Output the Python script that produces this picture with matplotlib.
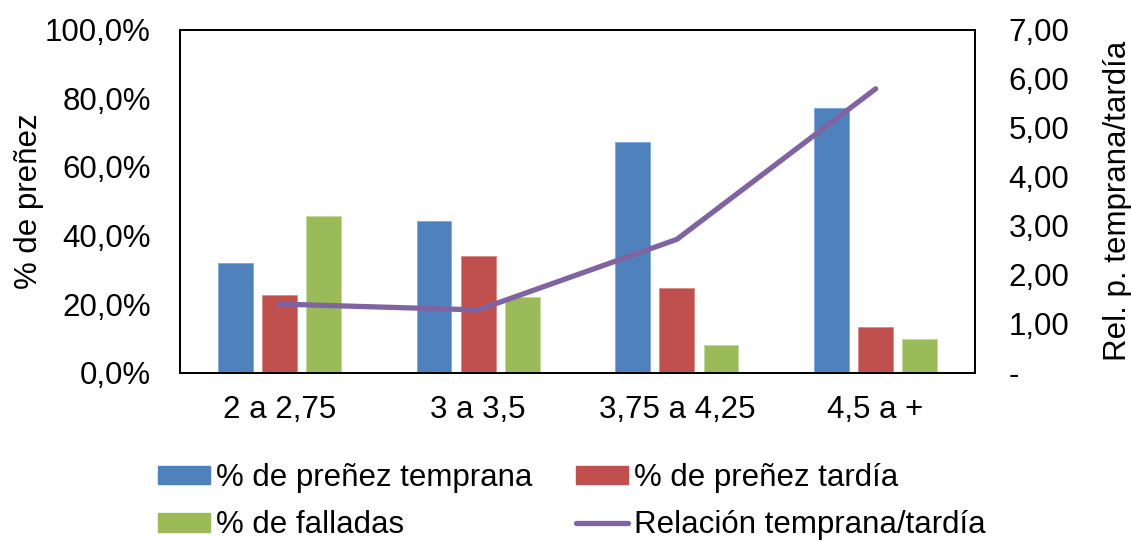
import numpy as np
import matplotlib.pyplot as plt
from matplotlib.patches import Patch
from matplotlib.lines import Line2D
from matplotlib.ticker import FuncFormatter

plt.rcParams['font.family'] = ['Liberation Sans', 'DejaVu Sans']

# datos
categorias = ['2 a 2,75', '3 a 3,5', '3,75 a 4,25', '4,5 a +']
temprana = [31.9, 44.2, 67.2, 77.0]
tardia = [22.6, 34.0, 24.6, 13.2]
falladas = [45.7, 22.0, 8.0, 9.9]
relacion = [1.40, 1.28, 2.72, 5.79]

c_azul = '#4F81BD'
c_rojo = '#C0504D'
c_verde = '#9BBB59'
c_lila = '#8064A2'
fs = 22.5

fig = plt.figure(figsize=(11.31, 5.42), dpi=100)
ax = fig.add_axes([180/1131, 1 - 372.7/542, 795/1131, 343.2/542])

x = np.arange(len(categorias))
w = 0.176
d = 0.222
ax.bar(x - d, temprana, w, color=c_azul, edgecolor='#7ea6d6', linewidth=0.6)
ax.bar(x, tardia, w, color=c_rojo, edgecolor='#d98885', linewidth=0.6)
ax.bar(x + d, falladas, w, color=c_verde, edgecolor='#c2d89a', linewidth=0.6)
ax.set_xlim(-0.5, len(categorias) - 0.5)
ax.set_ylim(0, 100)
ax.set_yticks(np.arange(0, 101, 20))
ax.yaxis.set_major_formatter(FuncFormatter(lambda v, p: f'{v:.1f}%'.replace('.', ',')))
ax.set_xticks(x)
ax.set_xticklabels(categorias)
ax.tick_params(axis='y', length=0, labelsize=fs, pad=21)
ax.tick_params(axis='x', length=0, labelsize=fs, pad=16)
ax.set_ylabel('% de preñez', fontsize=fs, labelpad=1)

ax2 = ax.twinx()
ax2.plot(x, relacion, color=c_lila, linewidth=3.8, solid_capstyle='round')
ax2.set_ylim(0, 7)
ax2.set_yticks(range(8))
ax2.yaxis.set_major_formatter(FuncFormatter(lambda v, p: '-' if v == 0 else f'{v:.2f}'.replace('.', ',')))
ax2.tick_params(axis='y', length=0, labelsize=fs, pad=24)
ax2.set_ylabel('Rel. p. temprana/tardía', fontsize=fs, labelpad=24)

for a in (ax, ax2):
    for s in a.spines.values():
        s.set_linewidth(1.3)

handles = [Patch(color=c_azul), Patch(color=c_verde), Patch(color=c_rojo),
           Line2D([], [], color=c_lila, linewidth=3.8, solid_capstyle='round')]
labels = ['% de preñez temprana', '% de falladas', '% de preñez tardía', 'Relación temprana/tardía']
fig.legend(handles, labels, ncol=2, loc='upper left', bbox_to_anchor=(158/1131, 1 - 463/542),
           frameon=False, fontsize=fs, borderpad=0, borderaxespad=0, handlelength=1.65,
           handleheight=0.55, handletextpad=0.2, columnspacing=1.4, labelspacing=0.55)

fig.savefig('out.png', dpi=100)
